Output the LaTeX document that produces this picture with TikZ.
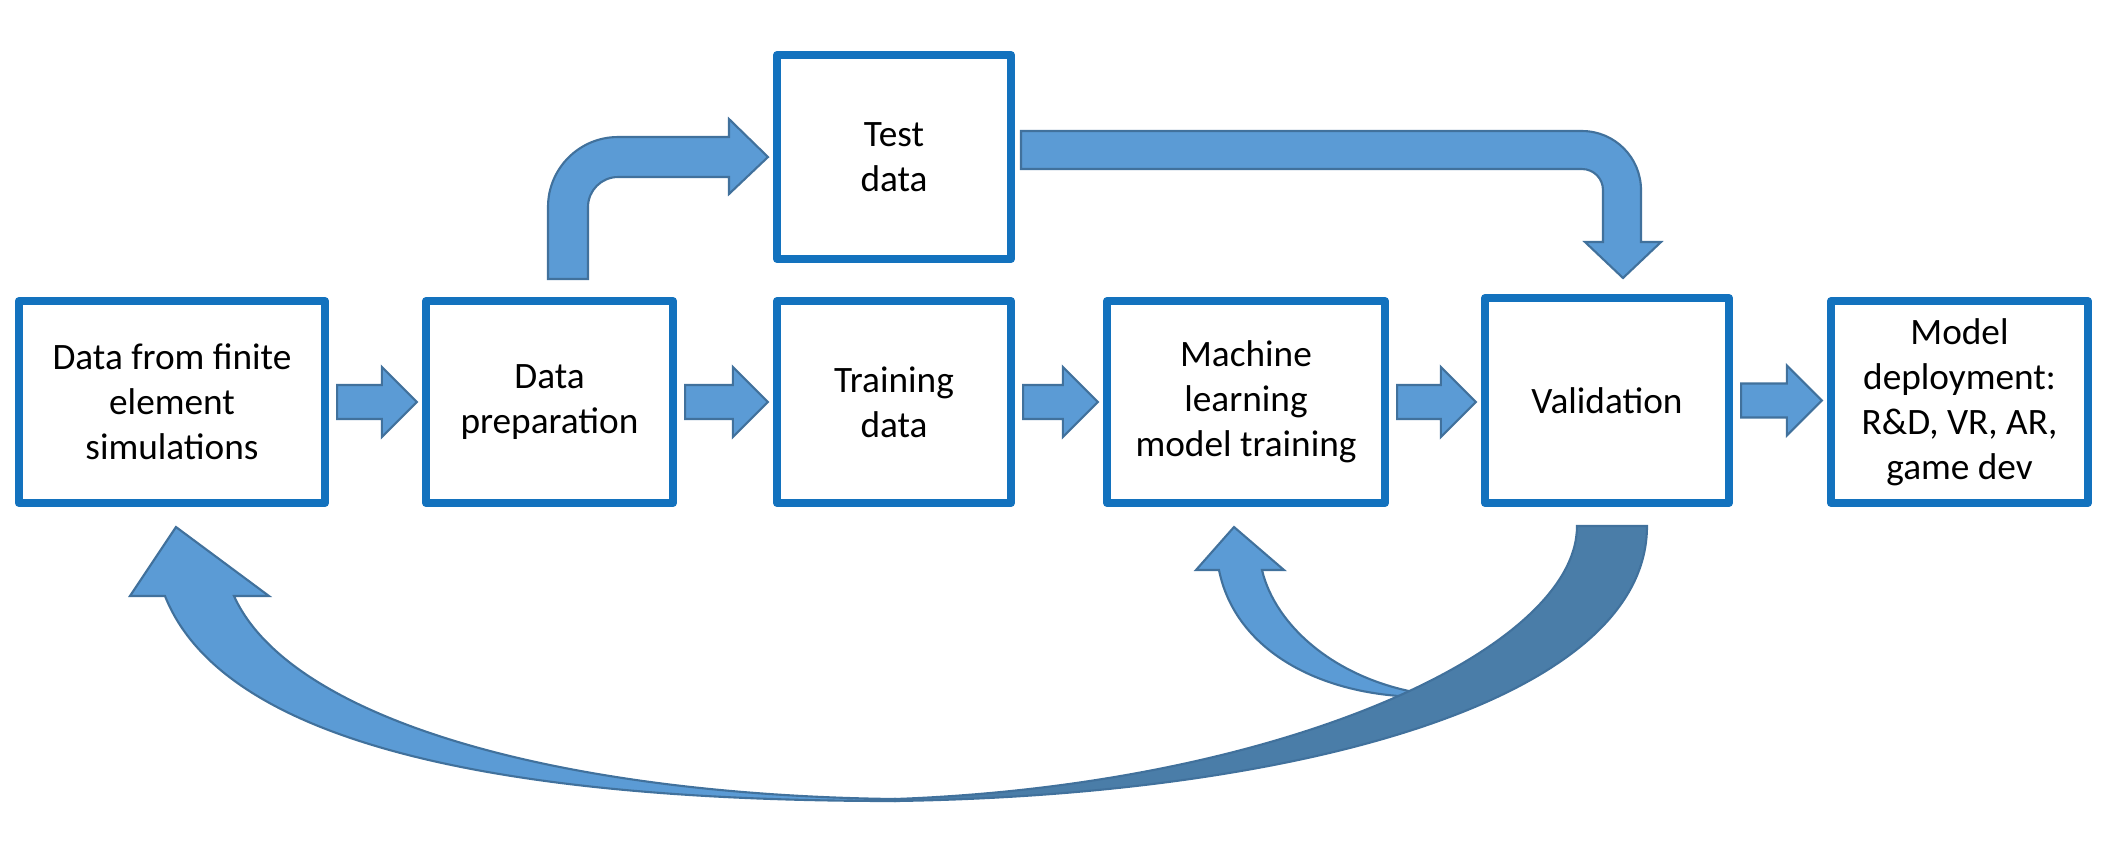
\documentclass[tikz,border=0pt]{standalone}
\usepackage{fontspec}
\setmainfont{Carlito}
\usetikzlibrary{calc}
\definecolor{boxblue}{RGB}{19,114,190}
\definecolor{arrowfill}{RGB}{91,155,213}
\definecolor{arrowline}{RGB}{65,113,156}
\definecolor{arrowdark}{RGB}{74,125,168}
\newcommand{\rarrow}[2]{%
  \path ($(#1.east)+(8,0)$) coordinate (ra);
  \path (ra -| #2.west) ++(-5,0) coordinate (rb);
  \draw[blockarrow] ($(ra)+(0,-17)$) -- ($(rb)+(-35,-17)$) -- ($(rb)+(-35,-35)$) -- (rb)
    -- ($(rb)+(-35,35)$) -- ($(rb)+(-35,17)$) -- ($(ra)+(0,17)$) -- cycle;}

\begin{document}
\begin{tikzpicture}[x=0.01cm,y=-0.01cm,
    box/.style={draw=boxblue,line width=0.08cm,line join=round,fill=white,inner sep=0pt,
      minimum height=2.02cm,align=center,font=\fontsize{10.6}{12.8}\selectfont},
    blockarrow/.style={fill=arrowfill,draw=arrowline,line width=0.6pt,line join=miter},
    darkarrow/.style={fill=arrowdark,draw=arrowline,line width=0.6pt}]
            \useasboundingbox (0,0) rectangle (2108,850);
            \node[box,minimum width=3.06cm] (sim) at (172,402) {Data from finite\\element\\simulations};
            \node[box,minimum width=2.47cm] (prep) at (549.5,402) {Data\\preparation};
            \node[box,minimum width=2.34cm,minimum height=2.04cm] (test) at (894,157) {Test\\data};
            \node[box,minimum width=2.34cm] (train) at (894,402) {Training\\data};
            \node[box,minimum width=2.78cm] (ml) at (1246,402) {Machine\\learning\\model training};
            \node[box,minimum width=2.44cm,minimum height=2.05cm] (val) at (1607,400.5) {Validation};
            \node[box,minimum width=2.57cm] (dep) at (1959.5,402) {Model\\deployment:\\R\&D, VR, AR,\\game dev};
            \rarrow{sim}{prep}
            \rarrow{prep}{train}
            \rarrow{train}{ml}
            \rarrow{ml}{val}
            \rarrow{val}{dep}
            % up to the test data
            \draw[blockarrow] (548,279) -- (548,207) arc[start angle=180,end angle=270,radius=70]
              -- (729,137) -- (729,119) -- (768,157) -- (729,194) -- (729,177) -- (618,177)
              arc[start angle=270,end angle=180,radius=30] -- (588,279) -- cycle;
            % test data to validation
            \draw[blockarrow] (1021,131) -- (1582,131) arc[start angle=270,end angle=360,radius=59]
              -- (1641,242) -- (1661,242) -- (1623,278) -- (1585,242) -- (1603,242) -- (1603,190)
              arc[start angle=0,end angle=-90,radius=21] -- (1021,169) -- cycle;
            % back to model training
            \draw[blockarrow] (1196,570) -- (1234,527) -- (1284,570) -- (1262,570)
              .. controls (1275,625) and (1335,680) .. (1425,694) -- (1425,697)
              .. controls (1320,697) and (1235,650) .. (1219,570) -- cycle;
            % back to the simulations
            \draw[blockarrow] (130,596) -- (176,527) -- (269,596) -- (234,596)
              .. controls (290,720) and (560,795) .. (895,799) -- (895,801)
              .. controls (560,801) and (230,760) .. (165,596) -- cycle;
            \draw[darkarrow] (895,801) .. controls (1300,795) and (1647,700) .. (1647,526)
              -- (1577,526) .. controls (1577,650) and (1280,785) .. (895,799) -- cycle;
        \end{tikzpicture}
\end{document}
